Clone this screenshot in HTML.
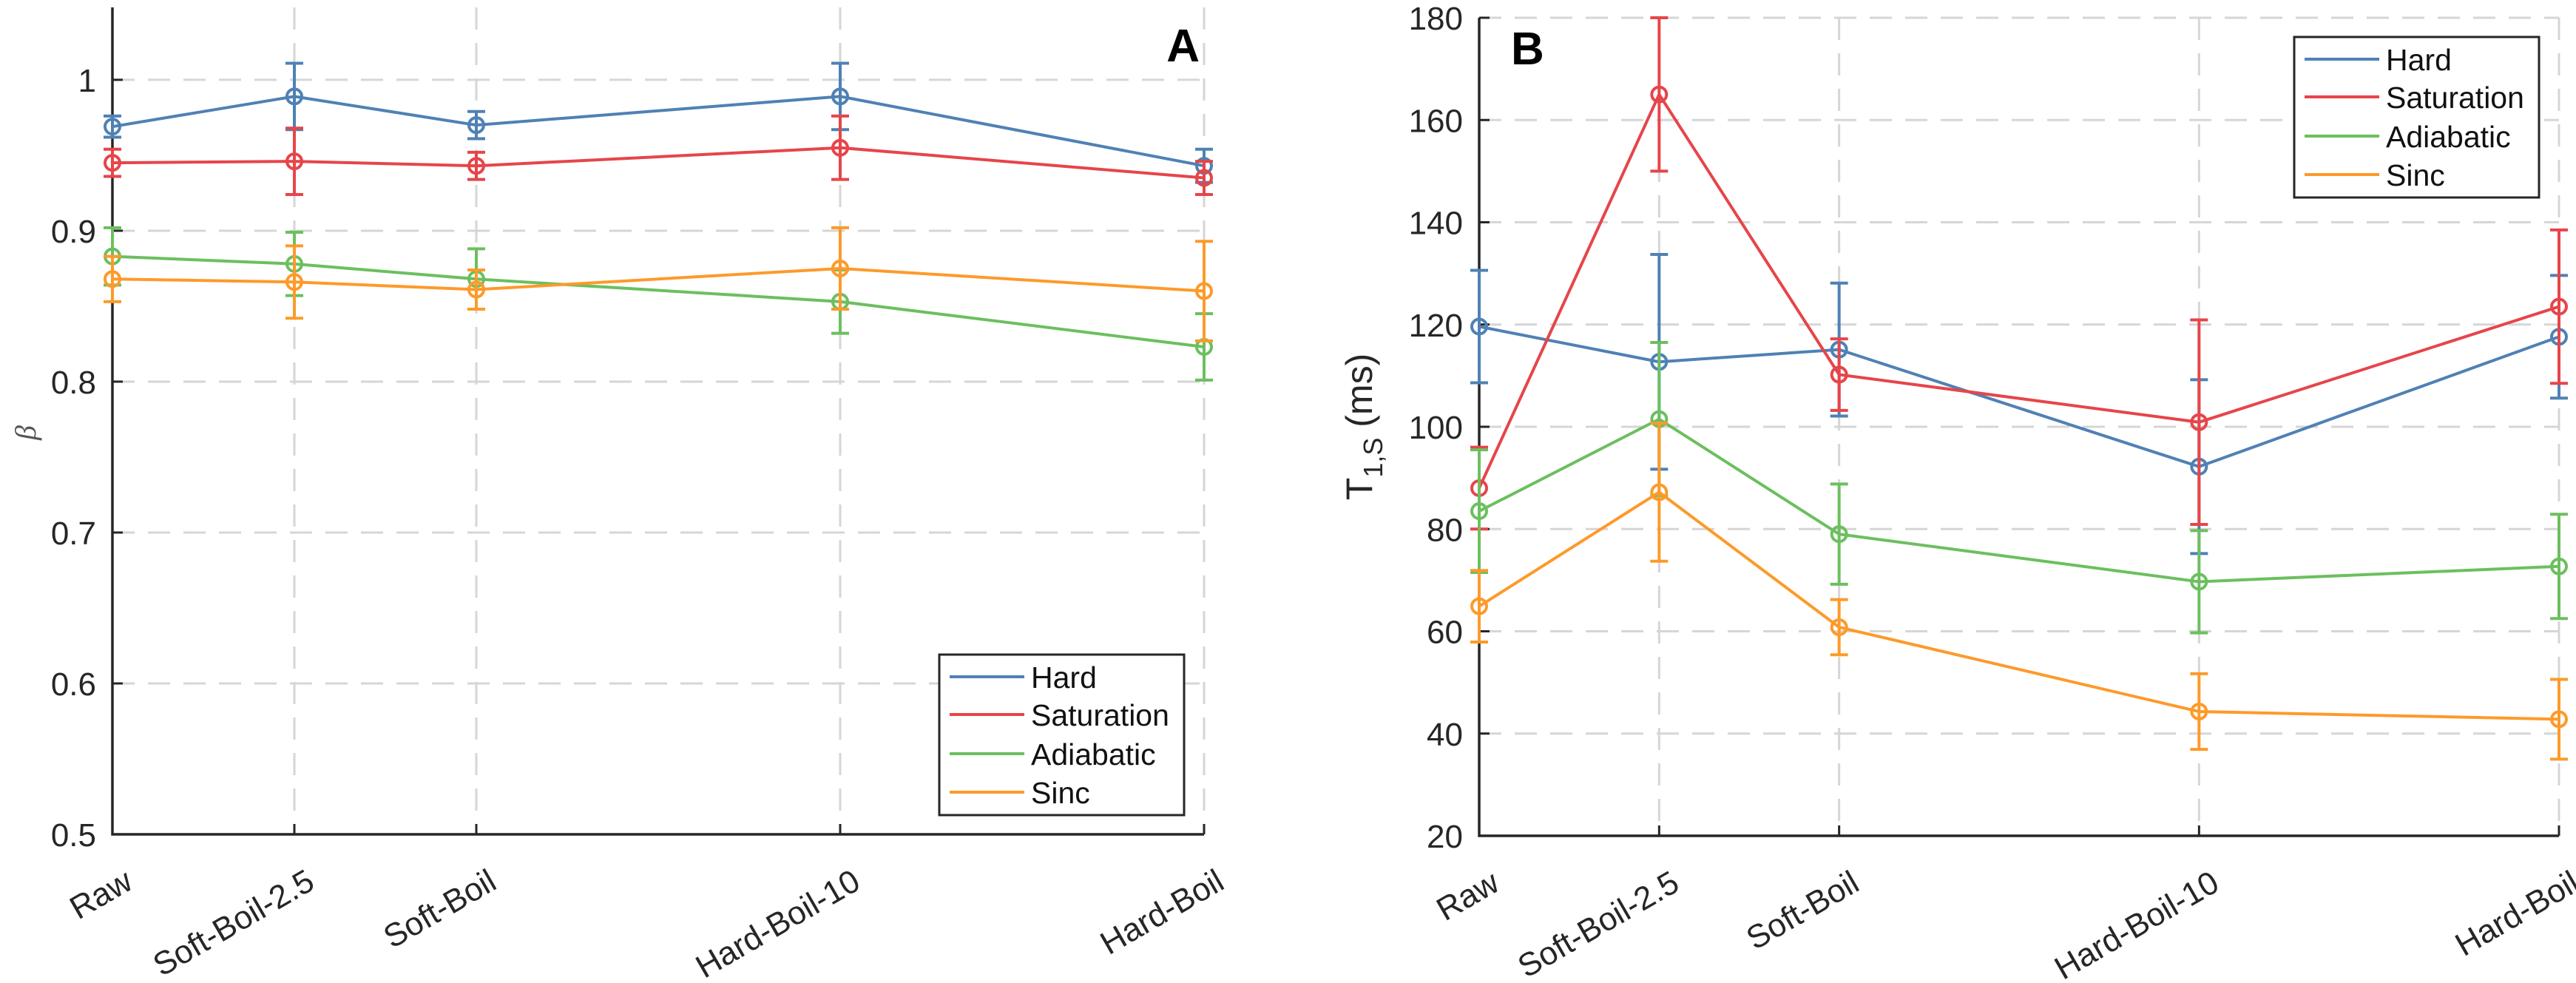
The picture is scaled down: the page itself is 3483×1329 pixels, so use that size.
<!DOCTYPE html>
<html><head><meta charset="utf-8">
<style>
html,body{margin:0;padding:0;background:#fff;}
svg{display:block;font-family:"Liberation Sans",Arial,sans-serif;}
</style></head>
<body>
<svg id="fig" width="3483" height="1329" viewBox="0 0 3483 1329" xmlns="http://www.w3.org/2000/svg">
<rect width="3483" height="1329" fill="#fff"/>
<g id="panelA"></g>
<g id="panelB"></g>
</svg>
<script>
const categories = ["Raw","Soft-Boil-2.5","Soft-Boil","Hard-Boil-10","Hard-Boil"];
const xPos = [0, 2.5, 5, 10, 15];
const seriesNames = ["Hard","Saturation","Adiabatic","Sinc"];
const seriesColors = ["#4f81b4","#e6454a","#6cbf5f","#fd9a2a"];

const betaHard = [0.969, 0.989, 0.970, 0.989, 0.943];
const betaHardErr = [0.007, 0.022, 0.009, 0.022, 0.011];
const betaSat = [0.945, 0.946, 0.943, 0.955, 0.935];
const betaSatErr = [0.009, 0.022, 0.009, 0.021, 0.011];
const betaAdi = [0.883, 0.878, 0.868, 0.853, 0.823];
const betaAdiErr = [0.019, 0.021, 0.020, 0.021, 0.022];
const betaSinc = [0.868, 0.866, 0.861, 0.875, 0.860];
const betaSincErr = [0.015, 0.024, 0.013, 0.027, 0.033];
const betaTicks = [0.5, 0.6, 0.7, 0.8, 0.9, 1.0];
const betaTickLabels = ["0.5","0.6","0.7","0.8","0.9","1"];

const t1Hard = [119.6, 112.7, 115.1, 92.2, 117.6];
const t1HardErr = [11, 21, 13, 17, 12];
const t1Sat = [88.0, 165.0, 110.2, 100.9, 123.5];
const t1SatErr = [8, 15, 7, 20, 15];
const t1Adi = [83.5, 101.5, 79.0, 69.7, 72.7];
const t1AdiErr = [12, 15, 9.8, 10, 10.2];
const t1Sinc = [64.9, 87.2, 60.8, 44.3, 42.8];
const t1SincErr = [7, 13.5, 5.4, 7.4, 7.8];
const t1Ticks = [20, 40, 60, 80, 100, 120, 140, 160, 180];
const t1TickLabels = ["20","40","60","80","100","120","140","160","180"];

const NS = "http://www.w3.org/2000/svg";
function mk(parent, tag, attrs, text){
  const e = document.createElementNS(NS, tag);
  for (const k in attrs) e.setAttribute(k, attrs[k]);
  if (text !== undefined) e.textContent = text;
  parent.appendChild(e);
  return e;
}

function drawPanel(g, cfg){
  const {left, right, top, bottom, ymin, ymax, ticks, tickLabels, series, errs, legend, letter} = cfg;
  const xS = v => left + (v - xPos[0]) / (xPos[xPos.length-1] - xPos[0]) * (right - left);
  const yS = v => bottom - (v - ymin) / (ymax - ymin) * (bottom - top);
  // grid
  ticks.forEach((t, i) => {
    if (i > 0) {
      const gl = mk(g, "line", {x1:left, x2:right, y1:yS(t), y2:yS(t), stroke:"#d6d6d6", "stroke-width":3, "stroke-dasharray":"30 18"});
      
      
    }
  });
  xPos.forEach((v, i) => {
    if (i > 0) {
      const gl = mk(g, "line", {x1:xS(v), x2:xS(v), y1:top, y2:bottom, stroke:"#d6d6d6", "stroke-width":3, "stroke-dasharray":"30 18"});
      
      
    }
  });
  // axes
  const ax = mk(g, "path", {d:`M${left},${top} L${left},${bottom} L${right},${bottom}`, fill:"none", stroke:"#262626", "stroke-width":3.5});
  
  
  ticks.forEach((t, i) => {
    const tk = mk(g, "line", {x1:left, x2:left+14, y1:yS(t), y2:yS(t), stroke:"#262626", "stroke-width":3});
    
    
    const tl = mk(g, "text", {x:left-22, y:yS(t)+16, "text-anchor":"end", "font-size":44, fill:"#262626"}, tickLabels[i]);
    
    
  });
  xPos.forEach((v, i) => {
    const tk = mk(g, "line", {x1:xS(v), x2:xS(v), y1:bottom, y2:bottom-14, stroke:"#262626", "stroke-width":3});
    
    
    const lx = xS(v) + 30, ly = bottom + 72;
    const tl = mk(g, "text", {x:lx, y:ly, "text-anchor":"end", "font-size":44, fill:"#262626", transform:`rotate(-30 ${lx} ${ly})`}, categories[i]);
    
    
  });
  // series
  series.forEach((vals, s) => {
    const col = seriesColors[s];
    const sg = mk(g, "g", {});
    
    
    const pts = vals.map((v, i) => `${xS(xPos[i])},${yS(v)}`).join(" ");
    const pl = mk(sg, "polyline", {points:pts, fill:"none", stroke:col, "stroke-width":4});
    
    
    vals.forEach((v, i) => {
      const x = xS(xPos[i]), e = errs[s][i];
      const y1 = yS(v + e), y2 = yS(v - e);
      const eb = mk(sg, "path", {d:`M${x},${y1} L${x},${y2} M${x-12},${y1} L${x+12},${y1} M${x-12},${y2} L${x+12},${y2}`, stroke:col, "stroke-width":4, fill:"none"});
      
      
      const c = mk(sg, "circle", {cx:x, cy:yS(v), r:10, fill:"none", stroke:col, "stroke-width":4});
      
      
    });
  });
  // legend
  const lg = mk(g, "g", {});
  
  
  const bx = mk(lg, "rect", {x:legend.x, y:legend.y, width:331, height:217, fill:"#fff", stroke:"#262626", "stroke-width":3});
  
  
  const rowY = [30, 81, 134, 186];
  seriesNames.forEach((n, s) => {
    const ry = legend.y + rowY[s];
    const ll = mk(lg, "line", {x1:legend.x+14, x2:legend.x+115, y1:ry, y2:ry, stroke:seriesColors[s], "stroke-width":4});
    
    
    const lt = mk(lg, "text", {x:legend.x+124, y:ry+15, "font-size":41, fill:"#111"}, n);
    
    
  });
  const L = mk(g, "text", {x:letter.x, y:letter.y, "text-anchor":letter.anchor, "font-size":62, "font-weight":"bold", fill:"#000"}, letter.t);
  
  
}

drawPanel(document.getElementById("panelA"), {
  left:152, right:1628, top:10, bottom:1128, ymin:0.5, ymax:1.048,
  ticks:betaTicks, tickLabels:betaTickLabels,
  series:[betaHard, betaSat, betaAdi, betaSinc],
  errs:[betaHardErr, betaSatErr, betaAdiErr, betaSincErr],
  legend:{x:1270, y:885}, letter:{x:1622, y:83, anchor:"end", t:"A"}
});
drawPanel(document.getElementById("panelB"), {
  left:2000, right:3460, top:24, bottom:1130, ymin:20, ymax:180,
  ticks:t1Ticks, tickLabels:t1TickLabels,
  series:[t1Hard, t1Sat, t1Adi, t1Sinc],
  errs:[t1HardErr, t1SatErr, t1AdiErr, t1SincErr],
  legend:{x:3102, y:50}, letter:{x:2043, y:87, anchor:"start", t:"B"}
});

const ya = mk(document.getElementById("panelA"), "text", {x:48, y:585, "text-anchor":"middle", "font-size":40, "font-style":"italic", "font-family":"Liberation Serif, serif", fill:"#555", transform:"rotate(-90 48 585)"}, "β");


const yb = mk(document.getElementById("panelB"), "text", {x:1855, y:577, "text-anchor":"middle", "font-size":50, fill:"#262626", transform:"rotate(-90 1855 577)"});


const t1 = mk(yb, "tspan", {}, "T");
const t2 = mk(yb, "tspan", {dy:14, "font-size":36}, "1,S");
const t3 = mk(yb, "tspan", {dy:-14}, " (ms)");
</script>
</body></html>
